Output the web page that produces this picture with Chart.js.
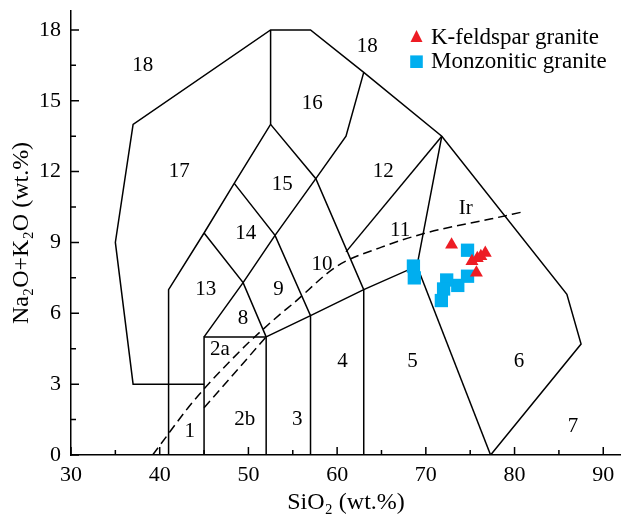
<!DOCTYPE html>
<html>
<head>
<meta charset="utf-8">
<title>TAS diagram</title>
<script src="https://cdn.jsdelivr.net/npm/chart.js@4.4.1/dist/chart.umd.min.js"></script>
<style>
  html, body { margin: 0; padding: 0; background: #fff; }
  #wrap { width: 621px; height: 515px; }
</style>
</head>
<body>
<div id="wrap"><canvas id="tas" width="621" height="515"></canvas></div>
<script>
// Samples: SiO2 vs Na2O+K2O (wt.%)
const kfsSiO2 = [72.9, 76.7, 75.8, 75.2, 75.7, 76.2];
const kfsAlk  = [8.9, 8.55, 8.33, 8.2, 7.72, 8.42];
const mzgSiO2 = [68.6, 68.7, 74.7, 74.7, 73.6, 72.35, 72.0, 71.75];
const mzgAlk  = [8.0, 7.5, 8.67, 7.57, 7.18, 7.41, 7.03, 6.54];

// Field boundaries (Middlemost plutonic TAS), pairs of [SiO2, Na2O+K2O]
const outerLine = [[45, 3], [37, 3], [35, 9], [37, 14], [52.5, 18], [57, 18], [63, 16.2], [71.8, 13.5], [85.9, 6.8], [87.5, 4.7], [77.3, 0]];
const line41    = [[41, 0], [41, 7], [45, 9.4], [48.4, 11.5], [52.5, 14], [52.5, 18]];
const line45    = [[45, 0], [45, 5], [52, 5], [52, 0]];
const lineD     = [[45, 5], [49.4, 7.3], [53, 9.3], [57.6, 11.7], [61, 13.5], [63, 16.2]];
const lineE     = [[45, 9.4], [49.4, 7.3], [52, 5]];
const lineF     = [[48.4, 11.5], [53, 9.3], [57, 5.9], [57, 0]];
const lineG     = [[52, 5], [57, 5.9], [63, 7], [69, 8], [71.8, 13.5]];
const lineH     = [[52.5, 14], [57.6, 11.7], [63, 7], [63, 0]];
const lineI     = [[61, 8.6], [71.8, 13.5]];
const lineJ     = [[69, 8], [77.3, 0]];
const split2ab  = [[45, 2], [52, 5]];
const irvineLine = [[39.2, 0], [40, 0.4], [43.2, 2], [45, 2.8], [48, 4], [50, 4.75], [53.7, 6], [55, 6.4], [60, 8], [65, 8.8], [70, 9.4], [77.4, 10], [81, 10.3]];

// Axis ticks
const xTickValues = [30, 40, 50, 60, 70, 80, 90];
const xMinorTicks = [35, 45, 55, 65, 75, 85];
const yTickValues = [0, 3, 6, 9, 12, 15, 18];
const yMinorTicks = [1.5, 4.5, 7.5, 10.5, 13.5, 16.5];

// Field names, placed in data units
const fieldLabels = [
  ['1', 43.4, 1.0], ['2a', 46.8, 4.45], ['2b', 49.6, 1.5], ['3', 55.5, 1.5],
  ['4', 60.6, 3.95], ['5', 68.5, 3.95], ['6', 80.5, 3.95], ['7', 86.6, 1.2],
  ['8', 49.4, 5.8], ['9', 53.4, 7.0], ['10', 58.3, 8.05], ['11', 67.1, 9.5],
  ['12', 65.2, 12.0], ['13', 45.2, 7.0], ['14', 49.7, 9.4], ['15', 53.8, 11.45],
  ['16', 57.2, 14.9], ['17', 42.2, 12.0], ['18', 38.1, 16.5], ['18', 63.4, 17.3],
  ['Ir', 74.5, 10.45]
];

const SERIF = '"Liberation Serif", "Times New Roman", serif';
const RED = '#ED1C24';
const BLUE = '#00AEEF';

const toPts = (xs, ys) => xs.map((x, i) => ({ x: x, y: ys[i] }));
const pairPts = arr => arr.map(p => ({ x: p[0], y: p[1] }));

function boundary(pts, dashed) {
  return {
    label: '',
    data: pairPts(pts),
    showLine: true,
    borderColor: '#000',
    borderWidth: 1.5,
    borderDash: dashed ? [9, 5] : [],
    pointRadius: 0,
    fill: false,
    order: 2
  };
}

// no extra edge padding for labels, keep plot box fixed
function noEdgePadding(s) {
  s.paddingLeft = 0;
  s.paddingRight = 0;
  s.paddingTop = 0;
  s.paddingBottom = 0;
}

// inward tick marks on both axes
const axisTicks = {
  id: 'axisTicks',
  afterDraw(chart) {
    const { ctx, chartArea: a, scales: { x, y } } = chart;
    ctx.save();
    ctx.strokeStyle = '#000';
    ctx.lineWidth = 1.5;
    ctx.beginPath();
    xTickValues.forEach(v => { const p = x.getPixelForValue(v); ctx.moveTo(p, a.bottom); ctx.lineTo(p, a.bottom - 8); });
    xMinorTicks.forEach(v => { const p = x.getPixelForValue(v); ctx.moveTo(p, a.bottom); ctx.lineTo(p, a.bottom - 5); });
    yTickValues.forEach(v => { const p = y.getPixelForValue(v); ctx.moveTo(a.left, p); ctx.lineTo(a.left + 8, p); });
    yMinorTicks.forEach(v => { const p = y.getPixelForValue(v); ctx.moveTo(a.left, p); ctx.lineTo(a.left + 5, p); });
    ctx.stroke();
    ctx.restore();
  }
};

// field numbers
const fieldText = {
  id: 'fieldText',
  afterDatasetsDraw(chart) {
    const { ctx, scales: { x, y } } = chart;
    ctx.save();
    ctx.fillStyle = '#000';
    ctx.font = '21px ' + SERIF;
    ctx.textAlign = 'center';
    ctx.textBaseline = 'middle';
    fieldLabels.forEach(([t, vx, vy]) => {
      ctx.fillText(t, x.getPixelForValue(vx), y.getPixelForValue(vy));
    });
    ctx.restore();
  }
};

// legend box in the top right corner
const legendBox = {
  id: 'legendBox',
  afterDraw(chart) {
    const { ctx } = chart;
    const sets = chart.data.datasets.slice(0, 2);
    ctx.save();
    ctx.font = '23px ' + SERIF;
    ctx.textBaseline = 'alphabetic';
    ctx.textAlign = 'left';
    sets.forEach((ds, i) => {
      const cx = 416.5, cy = 37 + i * 24.7;
      ctx.fillStyle = ds.backgroundColor;
      ctx.beginPath();
      if (ds.pointStyle === 'triangle') {
        ctx.moveTo(cx, cy - 7);
        ctx.lineTo(cx + 6, cy + 5);
        ctx.lineTo(cx - 6, cy + 5);
        ctx.closePath();
      } else {
        ctx.rect(cx - 6.3, cy - 6.3, 12.6, 12.6);
      }
      ctx.fill();
      ctx.fillStyle = '#000';
      ctx.fillText(ds.label, 431, cy + 6.5);
    });
    ctx.restore();
  }
};

new Chart(document.getElementById('tas'), {
  type: 'scatter',
  data: {
    datasets: [
      {
        label: 'K-feldspar granite',
        data: toPts(kfsSiO2, kfsAlk),
        pointStyle: 'triangle',
        pointRadius: 7.5,
        backgroundColor: RED,
        borderColor: RED,
        borderWidth: 0,
        order: 0
      },
      {
        label: 'Monzonitic granite',
        data: toPts(mzgSiO2, mzgAlk),
        pointStyle: 'rect',
        pointRadius: 9.4,
        backgroundColor: BLUE,
        borderColor: BLUE,
        borderWidth: 0,
        order: 1
      },
      boundary(outerLine),
      boundary(line41),
      boundary(line45),
      boundary(lineD),
      boundary(lineE),
      boundary(lineF),
      boundary(lineG),
      boundary(lineH),
      boundary(lineI),
      boundary(lineJ),
      boundary(split2ab, true),
      Object.assign(boundary(irvineLine, true), { cubicInterpolationMode: 'monotone' })
    ]
  },
  options: {
    responsive: false,
    animation: false,
    layout: { autoPadding: false, padding: { top: 11, right: 0, bottom: 0, left: 0 } },
    plugins: {
      legend: { display: false },
      tooltip: { enabled: false }
    },
    scales: {
      x: {
        type: 'linear',
        min: 30,
        max: 92,
        afterBuildTicks: s => { s.ticks = xTickValues.map(v => ({ value: v })); },
        afterFit: s => { s.height = 60; noEdgePadding(s); },
        grid: { drawOnChartArea: false, drawTicks: false },
        border: { display: true, color: '#000', width: 1.5 },
        ticks: { color: '#000', font: { family: SERIF, size: 22 }, padding: 7, maxRotation: 0, autoSkip: false },
        title: {
          display: true,
          text: 'SiO₂ (wt.%)',
          color: '#000',
          font: { family: SERIF, size: 24, lineHeight: 1 },
          padding: { top: 0, bottom: 0 }
        }
      },
      y: {
        type: 'linear',
        min: 0,
        max: 18.8,
        afterBuildTicks: s => { s.ticks = yTickValues.map(v => ({ value: v })); },
        afterFit: s => { s.width = 71; noEdgePadding(s); },
        grid: { drawOnChartArea: false, drawTicks: false },
        border: { display: true, color: '#000', width: 1.5 },
        ticks: { color: '#000', font: { family: SERIF, size: 22 }, padding: 10, autoSkip: false },
        title: {
          display: true,
          text: 'Na₂O+K₂O (wt.%)',
          color: '#000',
          font: { family: SERIF, size: 24, lineHeight: 1 },
          padding: { top: 10, bottom: 0 }
        }
      }
    }
  },
  plugins: [axisTicks, fieldText, legendBox]
});
</script>
</body>
</html>
